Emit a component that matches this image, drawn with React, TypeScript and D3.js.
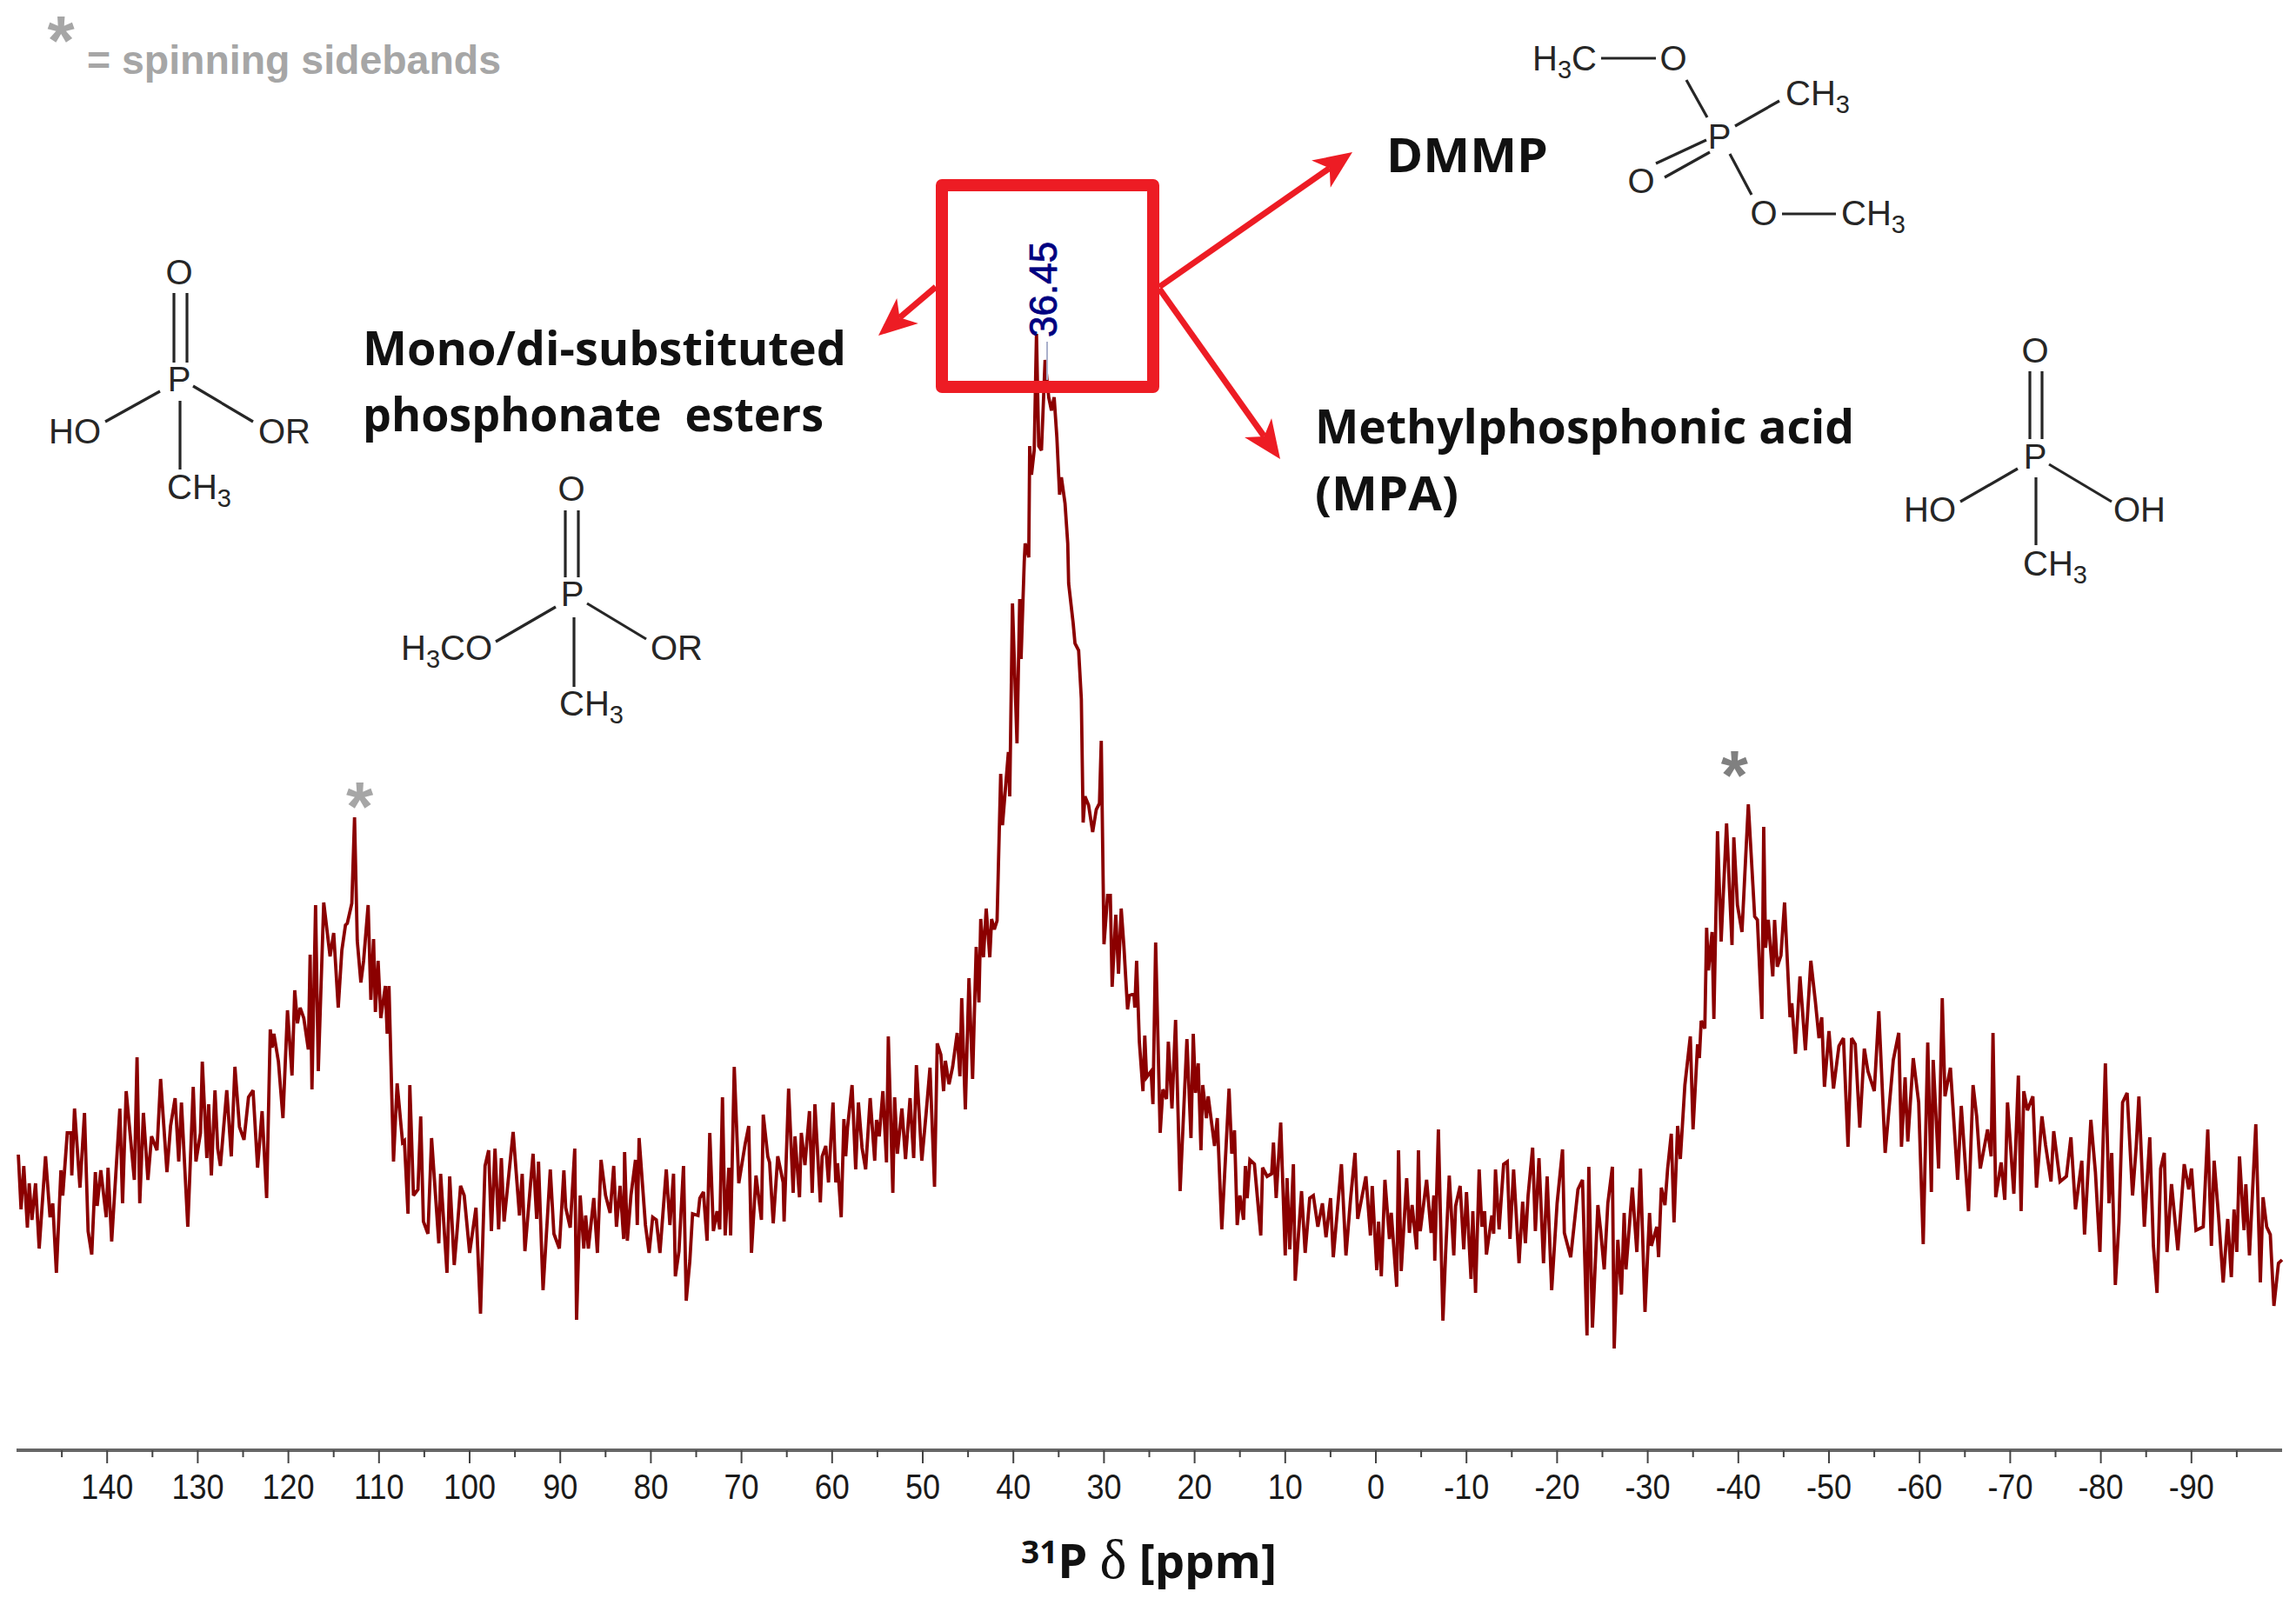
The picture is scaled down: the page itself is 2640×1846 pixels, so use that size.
import React from "react";
import * as d3 from "d3";

// 31P chemical shift (ppm) and intensity (a.u.), one array per spectral region
const farLeftBaseline: [number, number][] = [[149.8,340],[149.5,277],[149.2,327],[148.8,256],[148.6,307],[148.3,265],[147.9,307],[147.5,232],[146.8,338],[146.3,268],[146.0,284],[145.6,204],[145.1,322],[144.9,293],[144.4,365],[144.0,365],[143.9,316],[143.6,393],[143.0,302],[142.5,388],[142.1,252],[141.7,225],[141.3,320],[141.1,281],[140.7,322],[140.1,268],[139.9,325],[139.5,240],[138.6,393],[138.3,284],[137.9,413],[137.0,311],[136.7,452],[136.4,284],[136.0,388],[135.5,311],[135.1,361],[134.5,345],[134.1,427],[133.4,320],[133.0,373],[132.5,405],[132.1,332],[131.8,400],[131.1,257],[130.5,418],[130.2,332],[129.7,365],[129.5,447],[129.0,336],[128.8,398],[128.5,316],[128.1,414],[127.8,347],[127.5,327],[126.8,414],[126.3,338],[125.9,441],[125.4,372],[124.9,357],[124.4,406],[123.9,414],[123.4,325],[122.9,390],[122.4,290]];
const leftSideband: [number, number][] = [[122.0,484],[121.8,463],[121.6,479],[121.1,447],[120.6,382],[120.1,506],[119.6,431],[119.3,529],[119.0,491],[118.7,509],[118.3,497],[117.8,461],[117.6,570],[117.4,415],[117.0,627],[116.7,436],[116.1,630],[115.4,568],[115.0,595],[114.5,509],[114.1,575],[113.7,604],[113.5,606],[113.0,629],[112.7,728],[112.4,586],[112.0,538],[111.7,563],[111.2,627],[110.9,518],[110.6,588],[110.4,504],[110.1,563],[109.8,497],[109.3,534],[109.1,479],[108.9,534],[108.4,332],[108.0,422],[107.4,354],[107.2,356]];
const leftValley: [number, number][] = [[106.8,272],[106.6,420],[106.2,293],[105.7,300],[105.4,384],[105.1,263],[104.6,249],[104.2,359],[103.4,238],[103.2,318],[102.5,204],[102.2,315],[101.7,213],[101.4,250],[101.0,304],[100.6,293],[100.0,227],[99.3,279],[98.8,157],[98.3,327],[97.9,345],[97.6,252],[97.2,347],[96.8,254],[96.5,336],[96.2,263],[95.2,366],[94.5,270],[94.2,318],[93.9,229],[93.0,341],[92.6,266],[92.4,332],[91.9,184],[91.1,323],[90.7,249],[90.1,232],[89.6,322],[89.4,279],[88.9,256],[88.4,347],[88.2,150],[87.8,293],[87.4,232],[87.2,270],[86.9,232],[86.3,290],[85.9,227],[85.5,334],[85.0,293],[84.5,273],[84.1,327],[83.8,257],[83.4,304],[83.0,243],[82.9,343],[82.6,241],[82.2,293],[81.7,334],[81.5,259],[81.3,359],[80.6,259],[80.2,227],[79.8,268],[79.4,265],[79.0,227],[78.3,323],[77.9,259],[77.5,318],[77.3,200],[76.9,229],[76.4,327],[76.1,172],[75.7,218],[75.4,272],[74.8,270],[74.6,290],[74.2,297],[73.8,241],[73.5,365],[73.1,252],[72.7,275],[72.4,254],[72.1,406],[71.8,247],[71.4,325],[71.2,247],[70.8,441],[70.3,307],[69.6,352],[69.2,373],[68.9,227],[68.4,316],[67.8,265],[67.6,386]];
const risingFlank: [number, number][] = [[67.1,338],[66.9,331],[66.5,261],[66.0,338],[65.4,308],[65.3,263],[64.8,416],[64.3,296],[64.1,361],[63.6,291],[63.4,365],[63.0,328],[62.5,390],[62.2,296],[61.9,398],[61.3,285],[61.1,338],[60.7,350],[60.4,308],[59.9,400],[59.6,308],[59.4,330],[59.0,268],[58.7,381],[58.5,338],[58.3,371],[57.8,420],[57.4,323],[57.1,400],[56.7,348],[56.3,323],[55.8,405],[55.3,333],[55.1,380],[54.8,361],[54.4,413],[54.0,331],[53.8,476],[53.3,296],[53.1,406],[52.8,341],[52.3,393],[51.9,335],[51.4,405],[51.0,336],[50.7,443],[50.1,333],[49.6,391],[49.2,440],[48.7,303],[48.4,468],[48.0,455],[47.7,413],[47.5,448],[47.1,421],[46.7,441],[46.2,480],[45.9,430],[45.7,520],[45.3,392],[44.9,543],[44.5,427],[44.1,579],[43.8,515],[43.6,611],[43.3,567],[43.0,623],[42.6,567],[42.4,611],[42.1,599]];
const mainPeak: [number, number][] = [[41.8,609],[41.4,778],[41.2,719],[40.55,803],[40.4,752],[40.1,974],[39.6,813],[39.3,979],[39.15,910],[38.8,1022],[38.7,1043],[38.3,1027],[38.2,1155],[38.0,1122],[37.7,1150],[37.45,1284],[37.2,1155],[36.9,1150],[36.5,1254],[36.3,1232],[36.1,1211],[35.8,1196],[35.5,1211],[35.2,1165],[34.9,1099],[34.7,1119],[34.3,1089],[34.0,1043],[33.9,997],[33.4,951],[33.2,928],[32.8,920],[32.5,864],[32.3,722],[32.1,752],[31.7,742],[31.25,711],[30.85,737],[30.5,744],[30.3,816]];
const fallingFlank: [number, number][] = [[30.0,582],[29.6,638],[29.3,638],[29.1,533],[28.7,616],[28.4,548],[28.1,623],[27.8,579],[27.4,507],[27.2,523],[26.7,525],[26.6,509],[26.4,563],[26.1,470],[25.7,413],[25.5,477],[25.3,429],[24.8,436],[24.6,398],[24.3,584],[23.8,365],[23.5,415],[23.1,404],[22.9,470],[22.5,393],[22.1,495],[21.6,298],[20.85,473],[20.4,359],[20.15,479],[19.9,411],[19.6,445],[19.3,345],[19.1,420],[18.7,382],[18.5,407],[17.8,350],[17.5,382],[17.0,254],[16.2,416],[15.9,341],[15.6,368],[15.3,259],[15.0,293],[14.6,265],[14.4,327],[14.2,290],[13.9,334],[13.4,329],[12.7,247],[12.5,325],[12.0,315],[11.5,318],[11.3,354],[11.0,290],[10.5,377]];
const rightValley: [number, number][] = [[10.0,224],[9.8,313],[9.5,231],[9.1,329],[8.9,195],[8.2,298],[7.8,227],[7.3,290],[6.9,293],[6.4,257],[5.9,284],[5.5,245],[5.0,290],[4.7,222],[3.8,329],[3.3,224],[2.8,288],[2.3,342],[2.0,266],[1.1,315],[0.6,247],[0.4,304],[-0.1,207],[-0.3,263],[-0.6,200],[-1.0,311],[-1.5,243],[-1.7,273],[-2.3,188],[-2.5,345],[-2.8,206],[-3.4,313],[-3.7,250],[-4.0,282],[-4.5,231],[-4.7,345],[-4.9,252],[-5.6,311],[-6.1,250],[-6.4,293],[-6.5,218],[-6.9,369],[-7.4,149],[-7.7,227],[-8.1,316],[-8.6,224],[-8.8,281],[-9.3,304],[-9.7,231],[-10.0,297],[-10.5,197],[-10.7,275],[-11.0,181],[-11.4,323],[-11.7,257],[-12.0,275],[-12.2,225],[-12.8,270],[-13.0,249],[-13.2,323],[-13.6,254],[-14.1,329],[-14.5,332],[-14.8,243],[-15.2,323],[-15.8,215],[-16.2,286],[-16.5,238],[-16.8,293],[-17.3,348],[-17.6,252],[-18.0,336],[-18.5,215],[-18.9,315],[-19.4,184],[-20.0,284],[-20.6,346],[-20.8,250],[-21.5,222],[-22.3,300],[-22.8,311],[-23.3,132],[-23.5,326],[-23.9,141],[-24.5,282],[-24.8,253],[-25.2,208],[-25.6,284],[-26.1,326],[-26.3,117],[-26.7,242],[-27.1,179],[-27.4,273],[-27.6,208],[-28.3,302],[-28.8,228],[-29.2,324],[-29.7,159],[-30.2,273],[-30.4,235],[-31.0,257],[-31.2,222],[-31.5,302],[-31.9,282],[-32.2,324],[-32.6,364],[-32.9,262]];
const rightSideband: [number, number][] = [[-33.3,373],[-33.6,335],[-34.1,420],[-34.7,476],[-35.0,369],[-35.5,467],[-35.7,451],[-35.9,494],[-36.3,485],[-36.5,601],[-36.7,552],[-37.1,596],[-37.3,496],[-37.7,712],[-38.1,585],[-38.7,721],[-39.3,581],[-39.5,705],[-39.9,627],[-40.4,596],[-41.1,743],[-41.8,614],[-42.1,610],[-42.6,496],[-42.8,717],[-43.0,578],[-43.3,610],[-43.8,545],[-44.0,610],[-44.3,556],[-44.7,569],[-45.1,630],[-45.7,498],[-45.9,514],[-46.3,456],[-46.8,545],[-47.4,460],[-48.0,563],[-48.5,516],[-48.9,474],[-49.2,498],[-49.5,418]];
const rightTail: [number, number][] = [[-50.0,482],[-50.5,416],[-51.1,465],[-51.6,474],[-52.1,349],[-52.5,474],[-52.9,467],[-53.4,371],[-53.9,462],[-54.3,436],[-55.0,413],[-55.5,505],[-56.2,342],[-57.1,449],[-57.7,480],[-58.0,349],[-58.4,429],[-58.7,355],[-59.3,451],[-59.9,400],[-60.4,237],[-60.9,469],[-61.3,297],[-61.5,449],[-62.1,324],[-62.5,520],[-62.8,407],[-63.4,440],[-64.2,311],[-64.6,396],[-65.4,275],[-65.9,420],[-66.3,384],[-66.7,324],[-67.5,369],[-67.9,338],[-68.1,480],[-68.4,291],[-69.0,331],[-69.4,288],[-69.7,400],[-70.4,295],[-70.9,431],[-71.2,275],[-71.5,413],[-71.9,391],[-72.5,407],[-72.9,302],[-73.5,384],[-73.9,351],[-74.5,309],[-74.8,367],[-75.5,309],[-76.2,315],[-76.7,360],[-77.2,277],[-77.9,333],[-78.2,248],[-78.9,380],[-79.4,320],[-79.9,228],[-80.5,445],[-80.9,284],[-81.2,342],[-81.6,190],[-82.0,262],[-82.4,400],[-82.9,411],[-83.5,293],[-83.9,349],[-84.2,407],[-84.8,257],[-85.4,360],[-85.8,235],[-86.2,181],[-86.6,324],[-87.0,342],[-87.3,228],[-87.8,306],[-88.5,230],[-89.2,329],[-89.7,300],[-90.0,324],[-90.5,253],[-91.3,257],[-91.8,369],[-92.2,235],[-92.5,333],[-93.0,268],[-93.5,193],[-94.0,266],[-94.4,199],[-94.7,277],[-95.0,228],[-95.3,338],[-95.8,253],[-96.0,306],[-96.4,224],[-97.1,375],[-97.6,193],[-97.9,291],[-98.3,257],[-98.7,248],[-99.1,166],[-99.6,215],[-100.0,219]];

const spectrum = [...farLeftBaseline, ...leftSideband, ...leftValley, ...risingFlank, ...mainPeak, ...fallingFlank, ...rightValley, ...rightSideband, ...rightTail];

const majorTicks = d3.range(140, -91, -10);
const minorTicks = d3.range(145, -100, -10);
const sidebandPpm = [112.7, -41.1];
const peakLabel = "36.45";

const W = 2640, H = 1846;
const x = d3.scaleLinear().domain([150, -100]).range([19, 2624]);
const y = d3.scaleLinear().domain([0, 1300]).range([1668, 368]);
const path = d3.line<[number, number]>().x((d) => x(d[0])).y((d) => y(d[1]))(spectrum) as string;

const RED = "#ed1c24";
const INK = "#262626";
const SANS = "'Liberation Sans', Arial, sans-serif";
const HEAD = "'Open Sans', 'Noto Sans', sans-serif";

function Arrow({ x1, y1, x2, y2 }: { x1: number; y1: number; x2: number; y2: number }) {
  const a = Math.atan2(y2 - y1, x2 - x1);
  const L = 44, w = 19, n = 32;
  const px = (d: number, s: number) => x2 - d * Math.cos(a) - s * Math.sin(a);
  const py = (d: number, s: number) => y2 - d * Math.sin(a) + s * Math.cos(a);
  const head = [
    [x2, y2], [px(L, w), py(L, w)], [px(n, 0), py(n, 0)], [px(L, -w), py(L, -w)],
  ].map((p) => p.join(",")).join(" ");
  return (
    <g>
      <line x1={x1} y1={y1} x2={px(n, 0)} y2={py(n, 0)} stroke={RED} strokeWidth={7} />
      <polygon points={head} fill={RED} />
    </g>
  );
}

function Atom({ x, y, t, anchor = "middle", sub }: { x: number; y: number; t: string; anchor?: string; sub?: string }) {
  return (
    <text x={x} y={y + 14} textAnchor={anchor as any} fontFamily={SANS} fontSize={40} fill={INK}>
      {t}
      {sub ? <tspan dy={9} fontSize={29}>{sub}</tspan> : null}
    </text>
  );
}

function H3CAtom({ x, y, tail }: { x: number; y: number; tail: string }) {
  return (
    <text x={x} y={y + 14} fontFamily={SANS} fontSize={40} fill={INK} textAnchor="start">
      H<tspan dy={9} fontSize={29}>3</tspan><tspan dy={-9}>{tail}</tspan>
    </text>
  );
}

function Bonds({ segs, width = 3.2 }: { segs: number[][]; width?: number }) {
  return (
    <g stroke={INK} strokeWidth={width} fill="none">
      {segs.map((s, i) => <line key={i} x1={s[0]} y1={s[1]} x2={s[2]} y2={s[3]} />)}
    </g>
  );
}

export default function App() {
  return (
    <svg width={W} height={H} viewBox={`0 0 ${W} ${H}`} style={{ position: "absolute", left: 0, top: 0, display: "block", background: "#fff" }}>
      <defs>
        <filter id="soft" x="-2%" y="-2%" width="104%" height="104%">
          <feGaussianBlur stdDeviation="0.7" />
        </filter>
      </defs>
      <rect width={W} height={H} fill="#fff" />

      {/* legend */}
      <text x={70} y={74} textAnchor="middle" fontFamily={SANS} fontWeight={700} fontSize={80} fill="#a6a6a6">*</text>
      <text x={100} y={85} fontFamily={SANS} fontWeight={700} fontSize={46} fill="#a6a6a6" textLength={476} lengthAdjust="spacingAndGlyphs">= spinning sidebands</text>

      {/* spectrum */}
      <path d={path} fill="none" stroke="#8b0000" strokeWidth={3.8} strokeLinejoin="miter" strokeMiterlimit={3} filter="url(#soft)" />

      {/* sideband markers */}
      <text x={x(sidebandPpm[0]) + 6} y={955} textAnchor="middle" fontFamily={SANS} fontWeight={700} fontSize={80} fill="#a6a6a6">*</text>
      <text x={x(sidebandPpm[1]) - 16} y={919} textAnchor="middle" fontFamily={SANS} fontWeight={700} fontSize={80} fill="#808080">*</text>

      {/* peak label */}
      <line x1={1204} y1={393} x2={1204} y2={437} stroke="#aab0cc" strokeWidth={2} />
      <text transform="translate(1215,388) rotate(-90)" fontFamily={SANS} fontSize={44} fill="#000080" stroke="#000080" strokeWidth={0.8}>{peakLabel}</text>

      {/* highlight box and arrows */}
      <Arrow x1={1333} y1={330} x2={1555} y2={175} />
      <Arrow x1={1076} y1={330} x2={1010} y2={386} />
      <Arrow x1={1333} y1={332} x2={1472} y2={528} />
      <rect x={1083} y={213} width={243} height={232} fill="none" stroke={RED} strokeWidth={14} strokeLinejoin="round" />

      {/* labels */}
      <g fontFamily={HEAD} fontWeight={700} fontSize={53} fill="#111">
        <text x={1594} y={198} textLength={186} lengthAdjust="spacingAndGlyphs">DMMP</text>
        <text x={1512} y={510} textLength={620} lengthAdjust="spacingAndGlyphs">Methylphosphonic acid</text>
        <text x={1512} y={587} textLength={165} lengthAdjust="spacingAndGlyphs">(MPA)</text>
        <text x={417} y={420} textLength={556} lengthAdjust="spacingAndGlyphs">Mono/di-substituted</text>
        <text x={417} y={496} textLength={530} lengthAdjust="spacingAndGlyphs">{"phosphonate\u00a0\u00a0esters"}</text>
      </g>

      {/* structure: HO-P(=O)(CH3)-OR */}
      <Bonds segs={[[200,337,200,417],[215,337,215,417],[121,485,184,450],[222,444,291,485],[207,461,207,540]]} />
      <Atom x={206} y={313} t="O" />
      <Atom x={206} y={436} t="P" />
      <Atom x={56} y={496} t="HO" anchor="start" />
      <Atom x={297} y={496} t="OR" anchor="start" />
      <Atom x={192} y={560} t="CH" sub="3" anchor="start" />

      {/* structure: H3CO-P(=O)(CH3)-OR */}
      <Bonds segs={[[650,587,650,664],[665,587,665,664],[570,738,639,698],[675,694,743,735],[660,710,660,790]]} />
      <Atom x={657} y={562} t="O" />
      <Atom x={658} y={683} t="P" />
      <H3CAtom x={461} y={745} tail="CO" />
      <Atom x={748} y={745} t="OR" anchor="start" />
      <Atom x={643} y={809} t="CH" sub="3" anchor="start" />

      {/* structure: DMMP */}
      <Bonds segs={[[1841,67,1904,67],[1939,92,1963,135],[1995,145,2046,116],[1962,161,1904,188],[1966,175,1914,204],[1989,177,2014,224],[2049,246,2111,246]]} />
      <H3CAtom x={1762} y={67} tail="C" />
      <Atom x={1924} y={67} t="O" />
      <Atom x={1977} y={157} t="P" />
      <Atom x={2053} y={107} t="CH" sub="3" anchor="start" />
      <Atom x={1887} y={208} t="O" />
      <Atom x={2028} y={245} t="O" />
      <Atom x={2117} y={245} t="CH" sub="3" anchor="start" />

      {/* structure: MPA */}
      <Bonds segs={[[2334,427,2334,505],[2348,427,2348,505],[2254,577,2320,539],[2356,534,2428,577],[2341,549,2341,627]]} />
      <Atom x={2340} y={403} t="O" />
      <Atom x={2340} y={525} t="P" />
      <Atom x={2189} y={586} t="HO" anchor="start" />
      <Atom x={2430} y={586} t="OH" anchor="start" />
      <Atom x={2326} y={648} t="CH" sub="3" anchor="start" />

      {/* axis */}
      <line x1={x.range()[0]} x2={x.range()[1]} y1={1668} y2={1668} stroke="#666" strokeWidth={4} />
      <g stroke="#444" strokeWidth={2}>
        {majorTicks.map((t) => <line key={t} x1={x(t)} x2={x(t)} y1={1668} y2={1683} />)}
        {minorTicks.map((t) => <line key={t} x1={x(t)} x2={x(t)} y1={1668} y2={1676} />)}
      </g>
      <g fontFamily={SANS} fontSize={40} fill="#1a1a1a" textAnchor="middle">
        {majorTicks.map((t) => (
          <text key={t} transform={`translate(${x(t)},1724) scale(0.9,1)`}>{t}</text>
        ))}
      </g>

      {/* axis title */}
      <text x={1174} y={1815} fontFamily={HEAD} fontWeight={700} fontSize={53} fill="#111" textLength={294} lengthAdjust="spacingAndGlyphs">
        <tspan fontSize={36} dy={-17}>31</tspan>
        <tspan dy={17}>P </tspan>
        <tspan fontFamily="'Liberation Serif', serif" fontWeight={400} fontSize={64}>δ</tspan>
        <tspan> [ppm]</tspan>
      </text>
    </svg>
  );
}
